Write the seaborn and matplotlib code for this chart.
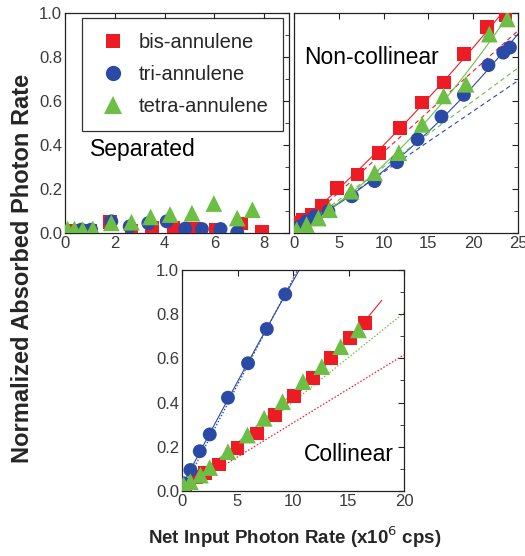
import numpy as np
import pandas as pd
import matplotlib
matplotlib.use("Agg")
import matplotlib.pyplot as plt
import seaborn as sns
from matplotlib.ticker import MultipleLocator
from matplotlib.lines import Line2D

sns.set_theme(style="white")
plt.rcParams['font.family'] = ['Liberation Sans', 'DejaVu Sans']

series_names = ["bis-annulene", "tri-annulene", "tetra-annulene"]

# Separated panel
sep_bis_x = [0.3, 0.6, 1.0, 1.8, 2.67, 3.48, 4.36, 5.17, 6.05, 7.06, 7.93]
sep_bis_y = [0.01, 0.01, 0.01, 0.05, 0.01, 0.023, 0.023, 0.02, 0.015, 0.043, 0.003]
sep_tri_x = [0.65, 1.05, 1.86, 2.6, 3.35, 4.09, 4.83, 5.5, 6.25, 6.92]
sep_tri_y = [0.015, 0.015, 0.053, 0.03, 0.045, 0.053, 0.02, 0.018, 0.018, 0.003]
sep_tetra_x = [0.1, 0.38, 0.71, 1.12, 1.86, 2.67, 3.44, 4.22, 5.1, 5.98, 6.92, 7.53]
sep_tetra_y = [0.018, 0.018, 0.015, 0.018, 0.046, 0.049, 0.073, 0.084, 0.09, 0.134, 0.068, 0.106]

# Non-collinear panel
nc_bis_x = [0.3, 1.04, 2.0, 3.1, 4.78, 7.09, 9.44, 11.87, 14.3, 16.7, 18.96, 21.5, 23.6]
nc_bis_y = [0.046, 0.06, 0.083, 0.125, 0.205, 0.266, 0.362, 0.479, 0.593, 0.684, 0.813, 0.938, 0.99]
nc_tri_x = [0.1, 0.67, 1.4, 2.35, 3.84, 6.46, 9.0, 11.5, 13.8, 16.46, 18.96, 21.7, 23.36, 24.1]
nc_tri_y = [0.015, 0.03, 0.053, 0.076, 0.099, 0.167, 0.236, 0.322, 0.426, 0.529, 0.628, 0.763, 0.82, 0.843]
nc_tetra_x = [0.3, 1.4, 2.72, 3.96, 6.38, 9.0, 11.7, 14.3, 16.7, 19.2, 21.8, 23.8]
nc_tetra_y = [0.015, 0.038, 0.068, 0.106, 0.19, 0.274, 0.365, 0.494, 0.623, 0.676, 0.904, 0.973]
nc_dash_slope = [0.0368, 0.0277, 0.0300]

# Collinear panel
col_bis_x = [0.3, 1.3, 2.1, 3.3, 5.0, 6.74, 8.37, 10.06, 11.8, 13.4, 15.1, 16.5]
col_bis_y = [0.027, 0.065, 0.08, 0.12, 0.193, 0.26, 0.344, 0.431, 0.51, 0.603, 0.694, 0.762]
col_tri_x = [0.15, 0.76, 1.6, 2.5, 4.14, 5.95, 7.64, 9.3]
col_tri_y = [0.035, 0.095, 0.18, 0.256, 0.422, 0.578, 0.733, 0.89]
col_tetra_x = [0.15, 0.76, 1.66, 2.5, 4.14, 5.9, 7.4, 9.06, 10.9, 12.6, 14.3, 15.9]
col_tetra_y = [0.027, 0.042, 0.072, 0.106, 0.178, 0.253, 0.329, 0.404, 0.495, 0.563, 0.653, 0.729]
col_dot_slope = [0.0308, 0.0960, 0.0403]

colors = ["#ED1C24", "#2A4AA6", "#6DBE45"]
markers = ["s", "o", "^"]
sizes = [100, 100, 145]

W, H = 525, 556
fig = plt.figure(figsize=(W / 100, H / 100), dpi=100)

def px_axes(l, t, r, b):
    return fig.add_axes([l / W, 1 - b / H, (r - l) / W, (b - t) / H])

ax1 = px_axes(65, 13, 289, 233)
ax2 = px_axes(294, 13, 518, 233)
ax3 = px_axes(182, 270, 404, 491)

def scatter(ax, xs, ys):
    for i, (x, y) in enumerate(zip(xs, ys)):
        df = pd.DataFrame({"x": x, "y": y})
        sns.scatterplot(data=df, x="x", y="y", ax=ax, color=colors[i], marker=markers[i],
                        s=sizes[i], edgecolor="none", linewidth=0, zorder=3, legend=False)

def line(ax, x, y, color, ls="-", lw=0.8):
    df = pd.DataFrame({"x": x, "y": y})
    sns.lineplot(data=df, x="x", y="y", ax=ax, color=color, linestyle=ls, lw=lw, zorder=2)

# Panel 1
scatter(ax1, [sep_bis_x, sep_tri_x, sep_tetra_x], [sep_bis_y, sep_tri_y, sep_tetra_y])

# Panel 2
nc_x = [nc_bis_x, nc_tri_x, nc_tetra_x]
nc_y = [nc_bis_y, nc_tri_y, nc_tetra_y]
xx = np.linspace(0, 25, 100)
for i in range(3):
    c = np.polyfit(nc_x[i], nc_y[i], 2)
    line(ax2, xx, np.polyval(c, xx), colors[i], "-", 0.8)
    line(ax2, xx, nc_dash_slope[i] * xx, colors[i], (0, (4, 3)), 0.8)
scatter(ax2, nc_x, nc_y)

# Panel 3
col_x = [col_bis_x, col_tri_x, col_tetra_x]
col_y = [col_bis_y, col_tri_y, col_tetra_y]
ends = [18, 10.6, 16.5]
for i in range(3):
    xs = np.linspace(0, ends[i], 60)
    c = np.polyfit(col_x[i], col_y[i], 2)
    line(ax3, xs, np.polyval(c, xs), colors[i], "-", 0.8)
    xd = np.linspace(0, 20, 60)
    line(ax3, xd, col_dot_slope[i] * xd, colors[i], (0, (1.2, 1.5)), 0.9)
scatter(ax3, col_x, col_y)

tick_color = "#3a3a3a"
for ax, xmax, xmaj in [(ax1, 9, 2), (ax2, 25, 5), (ax3, 20, 5)]:
    ax.set_xlim(0, xmax)
    ax.set_ylim(0, 1.0)
    ax.xaxis.set_major_locator(MultipleLocator(xmaj))
    ax.yaxis.set_major_locator(MultipleLocator(0.2))
    ax.yaxis.set_minor_locator(MultipleLocator(0.1))
    ax.set_xlabel("")
    ax.set_ylabel("")
    ax.tick_params(which="both", direction="in", top=True, right=True, color="#222222",
                   labelsize=12, labelcolor=tick_color, pad=2)
    ax.tick_params(which="major", length=4, width=0.8)
    ax.tick_params(which="minor", length=3, width=0.6)
    for s in ax.spines.values():
        s.set_color("#222222")
        s.set_linewidth(0.9)
    ax.set_facecolor("white")
    ax.yaxis.set_major_formatter(matplotlib.ticker.FormatStrFormatter("%.1f"))

ax2.tick_params(axis="y", labelleft=False)

ax1.text(0.11, 0.38, "Separated", transform=ax1.transAxes, fontsize=16.5,
         color="black", va="center")
ax2.text(0.045, 0.80, "Non-collinear", transform=ax2.transAxes, fontsize=16.5,
         color="black", va="center")
ax3.text(0.55, 0.163, "Collinear", transform=ax3.transAxes, fontsize=16.5,
         color="black", va="center")

handles = [Line2D([], [], linestyle="none", marker=markers[i], color=colors[i],
                  markersize=[10.5, 11, 13][i], markeredgewidth=0) for i in range(3)]
leg = ax1.legend(handles, series_names, loc="upper left", bbox_to_anchor=(0.076, 0.977),
                 frameon=True, fancybox=False, fontsize=14.5, handletextpad=0.45,
                 borderpad=0.75, labelspacing=0.65, handlelength=1.6, borderaxespad=0.0)
leg.get_frame().set_edgecolor("black")
leg.get_frame().set_linewidth(0.9)

fig.text(23 / W, 1 - 268 / H, "Normalized Absorbed Photon Rate", rotation=90,
         ha="center", va="center", fontsize=17, fontweight="bold")
fig.text(295 / W, 1 - 537 / H, r"Net Input Photon Rate (x10$^{6}$ cps)",
         ha="center", va="center", fontsize=13.5, fontweight="bold")

fig.savefig("out.png", dpi=100, facecolor="white")
